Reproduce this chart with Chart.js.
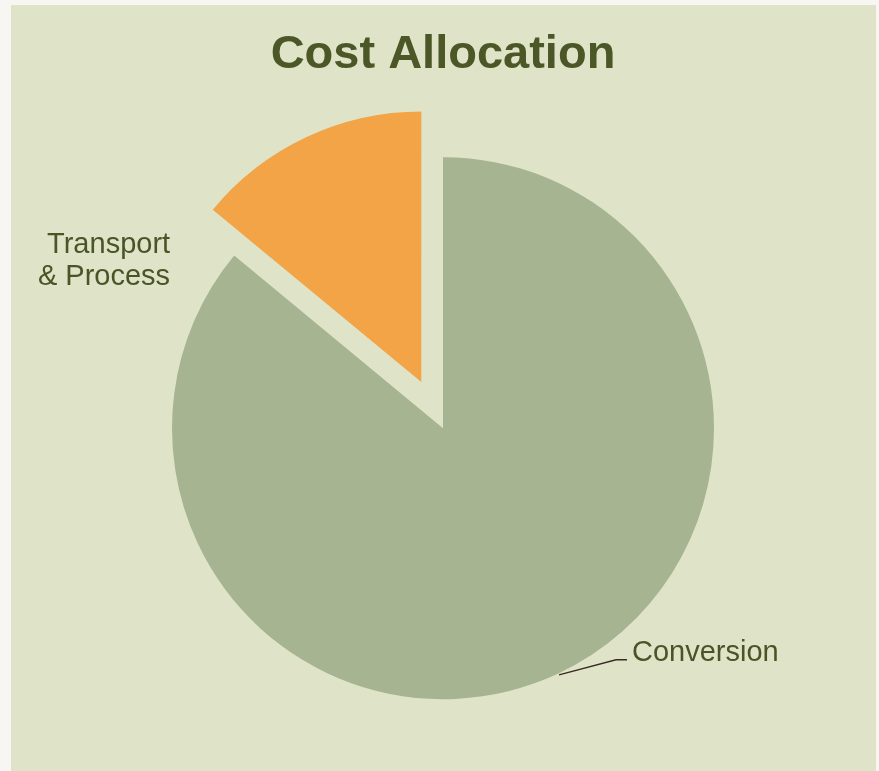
<!DOCTYPE html>
<html><head><meta charset="utf-8">
<script src="https://cdn.jsdelivr.net/npm/chart.js@4"></script>
<style>
html,body{margin:0;padding:0;background:#f7f6f2;width:879px;height:771px;overflow:hidden;}
#panel{position:absolute;left:11px;top:5px;width:865px;height:766px;background:#dfe4c9;}
canvas{position:absolute;left:0;top:0;}
</style></head><body>
<div id="panel"></div>
<canvas id="c" width="879" height="771"></canvas>
<script>
// ---- data ----
const categories = ['Conversion', 'Transport & Process'];
const costShare = [86, 14];
const chartTitle = 'Cost Allocation';

// ---- styles ----
const sliceColors = ['#a6b491', '#f2a447'];
const textColor = '#4a5427';
const FONT = "'Liberation Sans', Arial, sans-serif";

// keep exploded slice at the same radius / angle as the others
const keepRadius = {
  id: 'keepRadius',
  afterDatasetUpdate(chart, args) {
    args.meta.data.forEach(arc => {
      const off = ((arc.options && arc.options.offset) || 0) / 4;
      if (!off) return;
      const fix = 1 - Math.sin(Math.min(Math.PI, arc.circumference || 0));
      const ro = off * fix;
      arc.outerRadius -= ro;
      const R = arc.outerRadius + ro;
      const a = (ro / Math.PI) / R / 2;
      arc.startAngle -= a;
      arc.endAngle += a;
      arc.circumference += 2 * a;
    });
  }
};

const sliceLabels = {
  id: 'sliceLabels',
  afterDatasetsDraw(chart, args, opts) {
    const ctx = chart.ctx;
    const meta = chart.getDatasetMeta(0);
    const base = meta.data[0];
    const cx = base.x, cy = base.y, R = base.outerRadius;
    ctx.save();
    ctx.font = opts.size + 'px ' + FONT;
    ctx.fillStyle = textColor;
    ctx.textBaseline = 'alphabetic';
    opts.items.forEach(it => {
      const arc = meta.data[it.index];
      const lines = it.lines || [chart.data.labels[it.index]];
      if (it.leader) {
        const mid = (arc.startAngle + arc.endAngle) / 2;
        const sx = arc.x + Math.cos(mid) * (R + 1.5), sy = arc.y + Math.sin(mid) * (R + 1.5);
        const ex = sx + it.leader.dx, ey = sy + it.leader.dy;
        const hx = ex + it.leader.h;
        ctx.strokeStyle = '#3b2a22';
        ctx.lineWidth = 1.3;
        ctx.beginPath(); ctx.moveTo(sx, sy); ctx.lineTo(ex, ey); ctx.lineTo(hx, ey); ctx.stroke();
        ctx.textAlign = 'left';
        ctx.fillText(lines[0], hx + it.gap, ey + it.base);
      } else {
        ctx.textAlign = it.align;
        const x = cx + it.ax * R, y = cy + it.ay * R;
        lines.forEach((l, k) => ctx.fillText(l, x, y + k * it.lh));
      }
    });
    ctx.restore();
  }
};

new Chart(document.getElementById('c'), {
  type: 'pie',
  data: {
    labels: categories,
    datasets: [{
      data: costShare,
      backgroundColor: sliceColors,
      borderWidth: 0,
      offset: [0, 204],
      hoverOffset: 0
    }]
  },
  options: {
    responsive: false,
    animation: false,
    events: [],
    radius: 271,
    layout: { padding: { left: 7, right: 0, top: 0, bottom: 6 } },
    plugins: {
      legend: { display: false },
      tooltip: { enabled: false },
      title: {
        display: true,
        text: chartTitle,
        color: '#4b5726',
        font: { family: FONT, size: 47, weight: 'bold' },
        padding: { top: 27, bottom: 8 }
      },
      sliceLabels: {
        size: 29,
        items: [
          { index: 0, leader: { dx: 57, dy: -15, h: 11 }, gap: 5, base: 1.5 },
          { index: 1, lines: ['Transport', '& Process'], align: 'right', ax: -1.007, ay: -0.646, lh: 31.5 }
        ]
      }
    }
  },
  plugins: [keepRadius, sliceLabels]
});
</script>
</body></html>
